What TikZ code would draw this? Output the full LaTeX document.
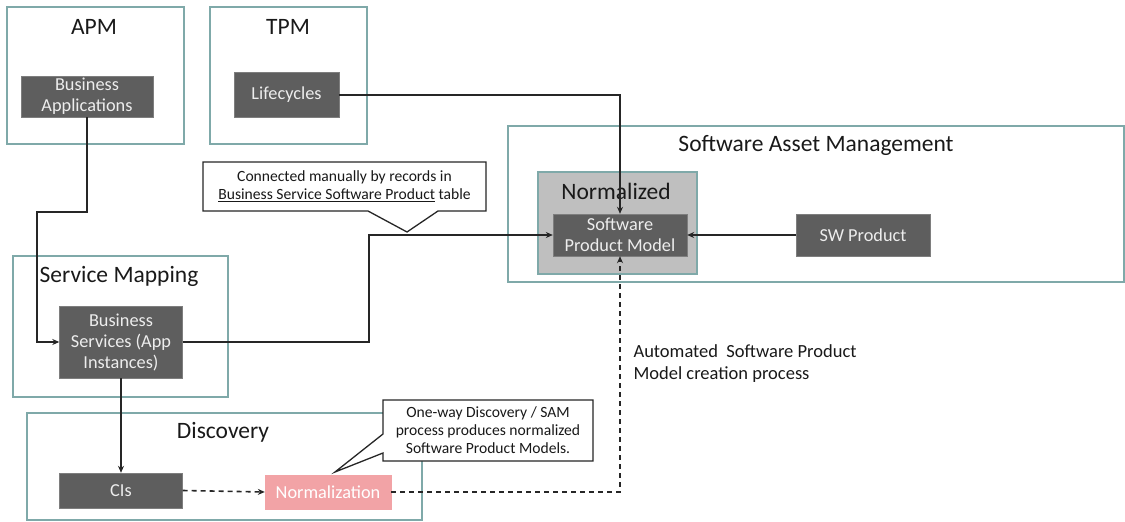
\documentclass[tikz,border=0pt]{standalone}
\usepackage{fontspec}
\setmainfont{Carlito}
\usetikzlibrary{arrows.meta}
\definecolor{frameteal}{HTML}{7FA9A9}
\definecolor{boxgray}{HTML}{5E5E5E}
\definecolor{normgray}{HTML}{BFBFBF}
\definecolor{normpink}{HTML}{F2A3A6}
\begin{document}
\begin{tikzpicture}[x=1pt,y=-1pt,
  frame/.style={draw=frameteal,line width=1.3pt},
  title/.style={font=\fontsize{23.5}{26}\selectfont,text=black!90},
  darkbox/.style={fill=boxgray,draw=boxgray!80,text=white!93!black,align=center,
    font=\fontsize{18.3}{21}\selectfont,inner sep=0pt},
  callout/.style={draw=black!85,line width=1.3pt,fill=white},
  note/.style={font=\fontsize{15.6}{18}\selectfont,align=center,text=black!90},
  arr/.style={draw=black!85,line width=1.6pt,-{Stealth[length=7pt,width=6pt]}},
  darr/.style={arr,dash pattern=on 5pt off 4pt}]
\useasboundingbox (0,0) rectangle (1125,522);

\draw[frame] (7,7) rectangle (184,144);
\draw[frame] (210,7) rectangle (367,144);
\draw[frame] (508,126) rectangle (1124,282);
\draw[frame,fill=normgray] (538,172) rectangle (697,274);
\draw[frame] (13,256) rectangle (228,397);
\draw[frame] (27,413) rectangle (422,520);

\node[title] (apmT) at (94,27) {APM};
\node[title] (tpmT) at (288,27) {TPM};
\node[title] (samT) at (816,145) {Software Asset Management};
\node[title] (normT) at (616,191) {Normalized};
\node[title] (smT) at (119,276) {Service Mapping};
\node[title] (discT) at (223,432) {Discovery};

\node[darkbox,minimum width=132pt,minimum height=41pt] (ba) at (87,96.5) {Business\\Applications};
\node[darkbox,minimum width=105pt,minimum height=45pt] (lc) at (286.5,95) {Lifecycles};
\node[darkbox,minimum width=134pt,minimum height=42pt] (spm) at (620,235) {Software\\Product Model};
\node[darkbox,minimum width=134pt,minimum height=42pt] (sw) at (863,235) {SW Product};
\node[darkbox,minimum width=123pt,minimum height=72pt] (bs) at (121,342) {Business\\Services (App\\Instances)};
\node[darkbox,minimum width=123pt,minimum height=35pt] (cis) at (121,490.5) {CIs};
\node[darkbox,fill=normpink,draw=normpink,text=white,minimum width=126pt,minimum height=34pt] (norm) at (328,492) {Normalization};

\coordinate (bend1) at (37,212);
\coordinate (bend2) at (369,235);
\draw[arr] (ba.south) |- (bend1) |- (bs.west);
\draw[arr] (lc.east) -| (spm.north);
\draw[arr] (sw.west) -- (spm.east);
\draw[arr] (bs.east) -| (bend2) -- (spm.west);
\draw[arr] (bs.south) -- (cis.north);
\draw[darr] (cis.east) -- (norm.west);
\draw[darr] (norm.east) -| (spm.south);

\draw[callout] (203,162) -- (486,162) -- (486,211) -- (438,211) -- (407,232) -- (368,211) -- (203,211) -- cycle;
\node[note] (manual) at (344.5,186) {Connected manually by records in\\\underline{Business Service Software Product} table};

\draw[callout] (383,400) -- (593,400) -- (593,461) -- (383,461) -- (383,453) -- (335,472) -- (383,434) -- cycle;
\node[note] (oneway) at (488,430.5) {One-way Discovery / SAM\\process produces normalized\\Software Product Models.};

\node[note,font=\fontsize{18.5}{22}\selectfont,align=left,anchor=west] (auto) at (630,364) {Automated\ \ Software Product\\Model creation process};
\end{tikzpicture}
\end{document}
